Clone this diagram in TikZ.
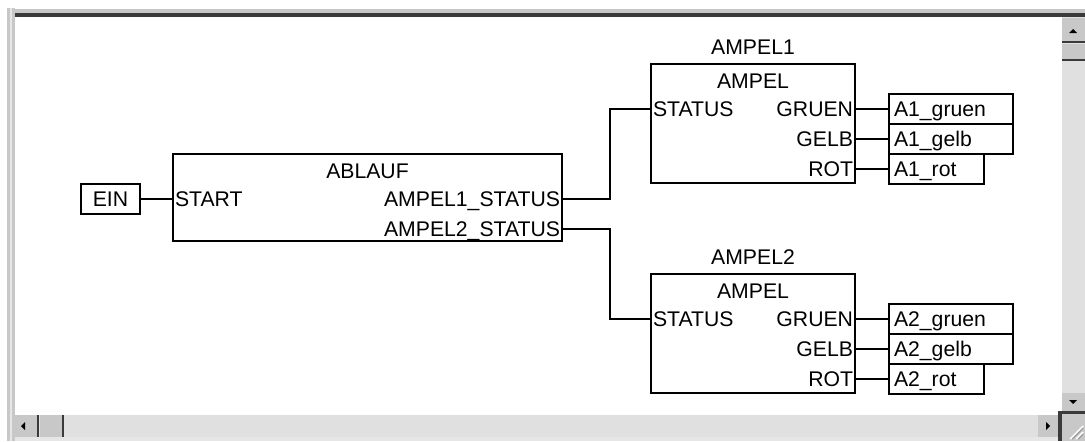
\documentclass[tikz,border=0pt]{standalone}
\usepackage{fontspec}
\setmainfont{Liberation Sans}
\usetikzlibrary{positioning}
\definecolor{cface}{HTML}{C8C8C8}
\definecolor{cdark}{HTML}{3A3A3A}
\definecolor{clite}{HTML}{E6E6E6}
\definecolor{cdither}{HTML}{E0E0E0}
\definecolor{cshade}{HTML}{9A9A9A}

\begin{document}
\begin{tikzpicture}[x=0.5pt,y=-0.5pt,
    font=\fontsize{10.6}{12.5}\selectfont,
    line width=1pt,
    fblock/.style={draw,anchor=north west,inner sep=0pt,minimum width=102pt,minimum height=59.5pt},
    lbl/.style={inner sep=1pt,text height=7.6pt,text depth=0pt},
    pinl/.style={lbl,anchor=west},
    pinr/.style={lbl,anchor=east},
    invar/.style={draw,inner sep=0pt,minimum width=29.5pt,minimum height=15pt,
                  text height=7.6pt,text depth=0pt},
    outvar/.style={draw,inner ysep=0pt,inner xsep=2.5pt,minimum height=15pt,
                   text height=7.6pt,text depth=0pt,text width=#1,align=left},
    outvar/.default=57pt]
  % window frame
  \useasboundingbox (0,0) rectangle (1085,441);
  \fill[white] (0,0) rectangle (1085,441);
  \fill[cface] (7,8) rectangle (15,441);
  \fill[clite] (10,8) rectangle (12,441);
  \fill[cface] (15,9) rectangle (1085,13);
  \fill[cdark] (15,13) rectangle (1085,17);
  % scroll bars
  \fill[cdither] (1062,17) rectangle (1085,414);
  \fill[cdither] (15,415) rectangle (1062,437);
  \fill[clite] (15,437) rectangle (1085,441);
  \fill[cface] (1062,18) rectangle (1085,41);
  \fill[cdark] (1062,41) rectangle (1085,43);
  \fill (1069,33) -- (1077,33) -- (1073,29) -- cycle;
  \fill[cface] (1062,44) rectangle (1085,59);
  \fill[cdark] (1062,59) rectangle (1085,61);
  \fill[cface] (1062,393) rectangle (1085,411);
  \fill (1069,400) -- (1077,400) -- (1073,404) -- cycle;
  \fill[cface] (15,415) rectangle (37,437);
  \fill[cdark] (37,415) rectangle (39,437);
  \fill (21,426) -- (25,422) -- (25,430) -- cycle;
  \fill[cface] (40,415) rectangle (62,437);
  \fill[cdark] (62,415) rectangle (64,437);
  \fill[cface] (1038,415) rectangle (1058,437);
  \fill (1050,426) -- (1046,422) -- (1046,430) -- cycle;
  \fill[cface] (1062,414) rectangle (1085,441);
  \fill[cdark] (1058,411) rectangle (1085,414);
  \fill[cdark] (1058,414) rectangle (1062,441);
  \draw[cshade,line width=0.7pt] (1072,439) -- (1083,428) (1078,439) -- (1083,434);
  \draw[white,line width=0.7pt] (1070,439) -- (1083,426) (1076,439) -- (1083,432);

  % function blocks
  \node[fblock,minimum width=194.5pt,minimum height=43.5pt] (ablauf) at (172,153) {};
  \node[fblock] (ampel1) at (650,63) {};
  \node[fblock] (ampel2) at (650,273) {};
  \node[lbl,below=3.7pt of ablauf.north] (ablauft) {ABLAUF};
  \node[lbl,below=3.7pt of ampel1.north] (ampel1t) {AMPEL};
  \node[lbl,below=3.7pt of ampel2.north] (ampel2t) {AMPEL};
  \node[lbl,above=2.7pt of ampel1] (ampel1n) {AMPEL1};
  \node[lbl,above=2.7pt of ampel2] (ampel2n) {AMPEL2};

  % pins
  \node[pinl] (ablaufstart) at ([yshift=-23pt]ablauf.north west) {START};
  \node[pinr] (ablaufo1) at ([yshift=-23pt]ablauf.north east) {AMPEL1\_STATUS};
  \node[pinr] (ablaufo2) at ([yshift=-38pt]ablauf.north east) {AMPEL2\_STATUS};
  \node[pinl] (a1status) at ([yshift=-23pt]ampel1.north west) {STATUS};
  \node[pinr] (a1pgruen) at ([yshift=-23pt]ampel1.north east) {GRUEN};
  \node[pinr] (a1pgelb)  at ([yshift=-38pt]ampel1.north east) {GELB};
  \node[pinr] (a1prot)   at ([yshift=-53pt]ampel1.north east) {ROT};
  \node[pinl] (a2status) at ([yshift=-23pt]ampel2.north west) {STATUS};
  \node[pinr] (a2pgruen) at ([yshift=-23pt]ampel2.north east) {GRUEN};
  \node[pinr] (a2pgelb)  at ([yshift=-38pt]ampel2.north east) {GELB};
  \node[pinr] (a2prot)   at ([yshift=-53pt]ampel2.north east) {ROT};

  % variables
  \node[invar] (ein) at (110.5,199) {EIN};
  \node[outvar,right=16pt of a1pgruen] (a1gruen) {A1\_gruen};
  \node[outvar,right=16pt of a1pgelb]  (a1gelb)  {A1\_gelb};
  \node[outvar=42.5pt,right=16pt of a1prot] (a1rot) {A1\_rot};
  \node[outvar,right=16pt of a2pgruen] (a2gruen) {A2\_gruen};
  \node[outvar,right=16pt of a2pgelb]  (a2gelb)  {A2\_gelb};
  \node[outvar=42.5pt,right=16pt of a2prot] (a2rot) {A2\_rot};

  % wires
  \draw (ein.east) -- (ablauf.west |- ein.east);
  \draw (ablauf.east |- ablaufo1) -- ++(23.5pt,0) |- (ampel1.west |- a1status);
  \draw (ablauf.east |- ablaufo2) -- ++(23.5pt,0) |- (ampel2.west |- a2status);
  \draw (ampel1.east |- a1gruen) -- (a1gruen.west);
  \draw (ampel1.east |- a1gelb)  -- (a1gelb.west);
  \draw (ampel1.east |- a1rot)   -- (a1rot.west);
  \draw (ampel2.east |- a2gruen) -- (a2gruen.west);
  \draw (ampel2.east |- a2gelb)  -- (a2gelb.west);
  \draw (ampel2.east |- a2rot)   -- (a2rot.west);
\end{tikzpicture}
\end{document}
